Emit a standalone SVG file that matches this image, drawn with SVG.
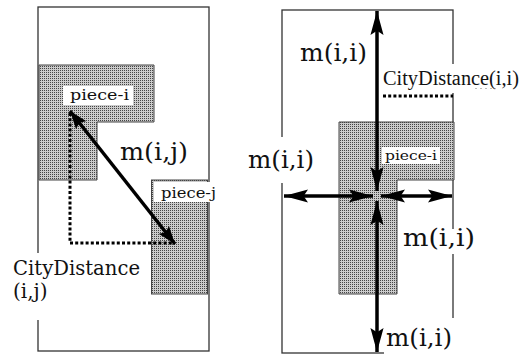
<svg xmlns="http://www.w3.org/2000/svg" width="527" height="354" viewBox="0 0 527 354">
<style>
.frame{fill:none;stroke:#333;stroke-width:1.3}
.piece{fill:url(#stip);stroke:#444;stroke-width:1}
.bg{fill:#fff}
.lbl{font-family:"DejaVu Serif","Liberation Serif",serif;fill:#111}
.big{font-size:24px}
.mid{font-size:20px}
.small{font-size:15px}
.arrow{stroke:#000;stroke-width:3.5;fill:none}
.dot{stroke:#000;stroke-width:3;fill:none;stroke-dasharray:3 2.2}
</style>
<defs>
<pattern id="stip" width="2" height="2" patternUnits="userSpaceOnUse">
<rect width="2" height="2" fill="#cbcbcb"/>
<rect width="1" height="1" fill="#444"/>
</pattern>
<marker id="ah" markerUnits="userSpaceOnUse" markerWidth="24" markerHeight="14" viewBox="0 0 22 12" refX="22" refY="6" orient="auto-start-reverse">
<path d="M0,0 L22,6 L0,12 L4,6 z" fill="#000"/>
</marker>
<marker id="ah2" markerUnits="userSpaceOnUse" markerWidth="18" markerHeight="14" viewBox="0 0 18 13" refX="18" refY="6.5" orient="auto-start-reverse">
<path d="M0,0 L18,6.5 L0,13 L3,6.5 z" fill="#000"/>
</marker>
</defs>

<g id="left-panel">
<rect class="frame" x="38" y="7" width="171" height="344"/>
</g>
<g id="piece-i-left">
<path class="piece" d="M39,65 H154 V122 H97 V180 H39 Z"/>
<rect class="bg" x="63" y="86" width="70" height="19"/>
<text class="lbl small" x="70" y="100" textLength="59" lengthAdjust="spacingAndGlyphs">piece-i</text>
</g>
<g id="piece-j">
<rect class="piece" x="151.5" y="180" width="56" height="114"/>
<rect class="bg" x="154" y="182" width="64" height="20"/>
<text class="lbl small" x="161" y="198" textLength="55" lengthAdjust="spacingAndGlyphs">piece-j</text>
</g>
<g id="label-citydistance-ij">
<rect class="bg" x="10" y="253" width="135" height="67"/>
<text class="lbl mid" x="13" y="275" textLength="127" lengthAdjust="spacingAndGlyphs">CityDistance</text>
<text class="lbl mid" x="13" y="298">(i,j)</text>
</g>
<g id="label-mij">
<text class="lbl big" x="120" y="160" textLength="68" lengthAdjust="spacingAndGlyphs">m(i,j)</text>
</g>

<g id="right-panel">
<rect class="frame" x="282" y="10" width="171" height="343"/>
</g>
<g id="piece-i-right">
<path class="piece" d="M339,122 H454 V180 H397 V294 H339 Z"/>
<rect class="bg" x="382" y="147" width="58" height="17"/>
<text class="lbl" font-size="13.5" x="385" y="160" textLength="52" lengthAdjust="spacingAndGlyphs">piece-i</text>
</g>
<g id="label-citydistance-ii">
<rect class="bg" x="380" y="64" width="147" height="29"/>
<text x="383" y="85" font-family="'Liberation Serif','DejaVu Serif',serif" font-size="20.5" fill="#111" textLength="136" lengthAdjust="spacingAndGlyphs">CityDistance(i,i)</text>
</g>
<g id="label-mii-top">
<text class="lbl big" x="300" y="61" textLength="67" lengthAdjust="spacingAndGlyphs">m(i,i)</text>
</g>
<g id="label-mii-left">
<rect class="bg" x="240" y="137" width="76" height="46"/>
<text class="lbl big" x="248" y="168" textLength="66" lengthAdjust="spacingAndGlyphs">m(i,i)</text>
</g>
<g id="label-mii-right">
<rect class="bg" x="400" y="229" width="80" height="25"/>
<text class="lbl big" x="403" y="246" textLength="72" lengthAdjust="spacingAndGlyphs">m(i,i)</text>
</g>
<g id="label-mii-bottom">
<rect class="bg" x="384" y="318" width="80" height="36"/>
<text class="lbl big" x="386" y="346" textLength="66" lengthAdjust="spacingAndGlyphs">m(i,i)</text>
</g>

<g id="connectors">
<path class="dot" d="M70,113 V243 H175"/>
<line class="arrow" x1="70" y1="111" x2="175" y2="244" marker-start="url(#ah2)" marker-end="url(#ah2)" stroke-width="4"/>
<path class="dot" d="M383,96 H453"/>
<path d="M475,88.5 H496" stroke="#bbb" stroke-width="1" stroke-dasharray="2 3" fill="none"/>
<line class="arrow" x1="377" y1="191" x2="377" y2="11" marker-start="url(#ah)" marker-end="url(#ah)"/>
<line class="arrow" x1="377" y1="201" x2="377" y2="352" marker-start="url(#ah)" marker-end="url(#ah)"/>
<line class="arrow" x1="373" y1="196" x2="284" y2="196" marker-start="url(#ah)" marker-end="url(#ah)"/>
<line class="arrow" x1="381" y1="196" x2="452" y2="196" marker-start="url(#ah)" marker-end="url(#ah)"/>
</g>
</svg>
